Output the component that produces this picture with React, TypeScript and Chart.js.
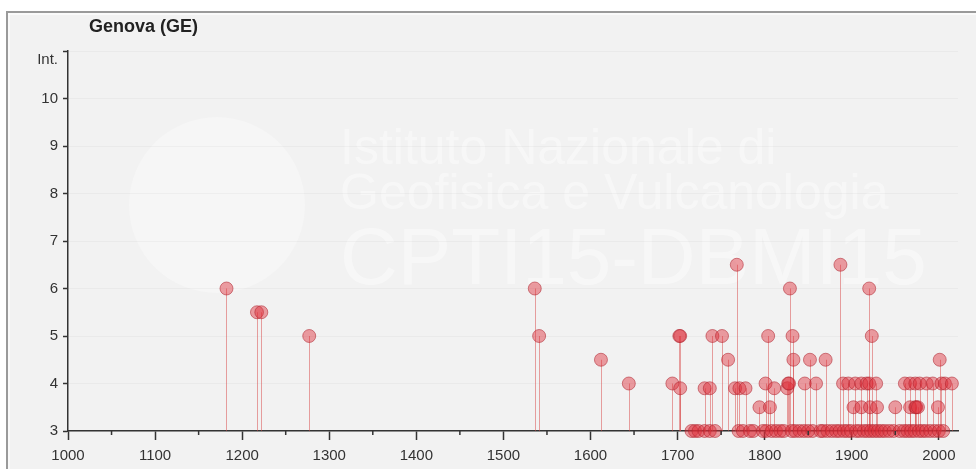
import React, { useEffect, useRef } from 'react';
import { Chart, registerables } from 'chart.js';

Chart.register(...registerables);

const chartTitle = 'Genova (GE)';
const watermarkLines = ['Istituto Nazionale di', 'Geofisica e Vulcanologia'];
const watermarkCode = 'CPTI15-DBMI15';

const xMin = 1000;
const xMax = 2022;
const xMajorTicks = [1000, 1100, 1200, 1300, 1400, 1500, 1600, 1700, 1800, 1900, 2000];
const xMinorTicks = [1050, 1150, 1250, 1350, 1450, 1550, 1650, 1750, 1850, 1950];
const yMin = 3;
const yMax = 11;
const yTicks = [3, 4, 5, 6, 7, 8, 9, 10, 11];
const yTopLabel = 'Int.';

// Year of each effect and intensity observed at Genova
const years = [
  1182, 1217, 1222, 1277, 1536, 1541, 1612, 1644, 1694, 1702, 1703, 1703,
  1716, 1720, 1724, 1731, 1731, 1737, 1737, 1740, 1743, 1751, 1758, 1766,
  1768, 1770, 1771, 1775, 1778, 1783, 1787, 1794, 1798, 1801, 1802, 1804,
  1806, 1808, 1811, 1813, 1818, 1822, 1826, 1827, 1828, 1829, 1831, 1832,
  1833, 1835, 1840, 1845, 1846, 1850, 1852, 1855, 1859, 1864, 1867, 1870,
  1872, 1877, 1882, 1886, 1887, 1890, 1891, 1895, 1896, 1899, 1902, 1904,
  1905, 1909, 1911, 1911, 1914, 1917, 1918, 1920, 1920, 1921, 1922, 1923,
  1926, 1928, 1929, 1930, 1934, 1938, 1943, 1948, 1950, 1955, 1960, 1961,
  1964, 1967, 1967, 1968, 1972, 1973, 1973, 1974, 1976, 1977, 1978, 1981,
  1985, 1986, 1990, 1993, 1995, 1999, 2000, 2001, 2003, 2005, 2007, 2015,
];
const intensities = [
  6, 5.5, 5.5, 5, 6, 5, 4.5, 4, 4, 5, 5, 3.9,
  3, 3, 3, 3.9, 3, 3.9, 3, 5, 3, 5, 4.5, 3.9,
  6.5, 3, 3.9, 3, 3.9, 3, 3, 3.5, 3, 4, 3, 5,
  3.5, 3, 3.9, 3, 3, 3, 3.9, 4, 4, 6, 3, 5,
  4.5, 3, 3, 3, 4, 3, 4.5, 3, 4, 3, 3, 4.5,
  3, 3, 3, 3, 6.5, 4, 3, 3, 4, 3, 3.5, 4,
  3, 3, 4, 3.5, 3, 4, 3, 6, 4, 3.5, 3, 5,
  3, 4, 3.5, 3, 3, 3, 3, 3, 3.5, 3, 3, 4,
  3, 4, 3.5, 3, 3, 4, 3.5, 3.5, 3.5, 3, 4, 3,
  3, 4, 3, 4, 3, 3.5, 3, 4.5, 4, 3, 4, 4,
];

const FONT = "'Liberation Sans', Arial, Helvetica, sans-serif";

const backgroundPlugin = {
  id: 'bgWatermark',
  beforeDraw(chart: any) {
    const { ctx, width, height } = chart;
    ctx.save();
    ctx.fillStyle = '#f2f2f2';
    ctx.fillRect(0, 0, width, height);
    ctx.fillStyle = '#9a9a9a';
    ctx.fillRect(0, 0, width, 2);
    ctx.fillRect(0, 0, 2, height);
    ctx.fillStyle = 'rgba(255,255,255,0.6)';
    ctx.fillRect(2, 2, width, 2);
    ctx.fillRect(2, 2, 2, height);
    // watermark logo
    ctx.beginPath();
    ctx.arc(211, 194, 88, 0, Math.PI * 2);
    ctx.fillStyle = 'rgba(255,255,255,0.3)';
    ctx.fill();
    ctx.fillStyle = 'rgba(255,255,255,0.42)';
    ctx.textBaseline = 'alphabetic';
    ctx.textAlign = 'left';
    ctx.font = `50px ${FONT}`;
    ctx.fillText(watermarkLines[0], 334, 153);
    ctx.fillText(watermarkLines[1], 334, 198);
    ctx.font = `80px ${FONT}`;
    ctx.fillText(watermarkCode, 334, 273);
    ctx.restore();
  },
};

const stemPlugin = {
  id: 'stems',
  beforeDatasetsDraw(chart: any) {
    const { ctx } = chart;
    const xs = chart.scales.x;
    const ys = chart.scales.y;
    const base = ys.getPixelForValue(yMin);
    ctx.save();
    ctx.strokeStyle = 'rgba(215,70,70,0.5)';
    ctx.lineWidth = 1;
    years.forEach((yr, i) => {
      const px = Math.round(xs.getPixelForValue(yr)) + 0.5;
      ctx.beginPath();
      ctx.moveTo(px, base);
      ctx.lineTo(px, ys.getPixelForValue(intensities[i]));
      ctx.stroke();
    });
    ctx.restore();
  },
  afterDraw(chart: any) {
    const { ctx } = chart;
    const xs = chart.scales.x;
    const bottom = chart.chartArea.bottom;
    ctx.save();
    ctx.strokeStyle = '#333';
    ctx.lineWidth = 1.5;
    xMinorTicks.forEach((v) => {
      const px = xs.getPixelForValue(v);
      ctx.beginPath();
      ctx.moveTo(px, bottom);
      ctx.lineTo(px, bottom + 4);
      ctx.stroke();
    });
    ctx.fillStyle = '#222';
    ctx.font = `bold 18px ${FONT}`;
    ctx.textBaseline = 'middle';
    ctx.textAlign = 'left';
    ctx.fillText(chartTitle, 83, 16);
    ctx.restore();
  },
};

export default function App() {
  const ref = useRef<HTMLCanvasElement>(null);
  useEffect(() => {
    if (!ref.current) return;
    const chart = new Chart(ref.current, {
      type: 'scatter',
      data: {
        datasets: [
          {
            data: years.map((yr, i) => ({ x: yr, y: intensities[i] })),
            pointRadius: 6.5,
            pointBackgroundColor: 'rgba(222,45,55,0.45)',
            pointBorderColor: 'rgba(175,35,45,0.55)',
            pointBorderWidth: 1,
            showLine: false,
            clip: false as any,
          },
        ],
      },
      options: {
        responsive: false,
        animation: false,
        events: [],
        layout: { padding: { left: 6, right: 18, top: 40, bottom: 2 } },
        plugins: {
          legend: { display: false },
          title: { display: false },
          tooltip: { enabled: false },
        },
        scales: {
          x: {
            type: 'linear',
            min: xMin,
            max: xMax,
            afterBuildTicks: (s: any) => {
              s.ticks = xMajorTicks.map((v) => ({ value: v }));
            },
            afterFit: (s: any) => {
              s.height = 36;
            },
            ticks: {
              font: { family: FONT, size: 15 },
              color: '#333',
              padding: 7,
              maxRotation: 0,
              autoSkip: false,
              callback: (v: any) => String(v),
            },
            grid: {
              display: true,
              drawOnChartArea: false,
              drawTicks: true,
              tickLength: 9,
              tickColor: '#333',
              tickWidth: 1.5,
            },
            border: { display: true, color: '#333', width: 1.5 },
          },
          y: {
            type: 'linear',
            min: yMin,
            max: yMax,
            afterBuildTicks: (s: any) => {
              s.ticks = yTicks.map((v) => ({ value: v }));
            },
            afterFit: (s: any) => {
              s.width = 56;
            },
            ticks: {
              font: { family: FONT, size: 15 },
              color: '#333',
              padding: 5,
              callback: (v: any) => (v === yMax ? ['', yTopLabel] : String(v)),
            },
            grid: {
              display: true,
              color: 'rgba(0,0,0,0.03)',
              drawTicks: true,
              tickLength: 5,
              tickColor: '#333',
              tickWidth: 1.5,
            },
            border: { display: true, color: '#333', width: 1.5 },
          },
        },
      },
      plugins: [backgroundPlugin, stemPlugin],
    });
    return () => chart.destroy();
  }, []);
  return (
    <div style={{ position: 'fixed', left: 6, top: 11, width: 970, height: 458 }}>
      <canvas ref={ref} width={970} height={458} style={{ display: 'block' }} />
    </div>
  );
}
